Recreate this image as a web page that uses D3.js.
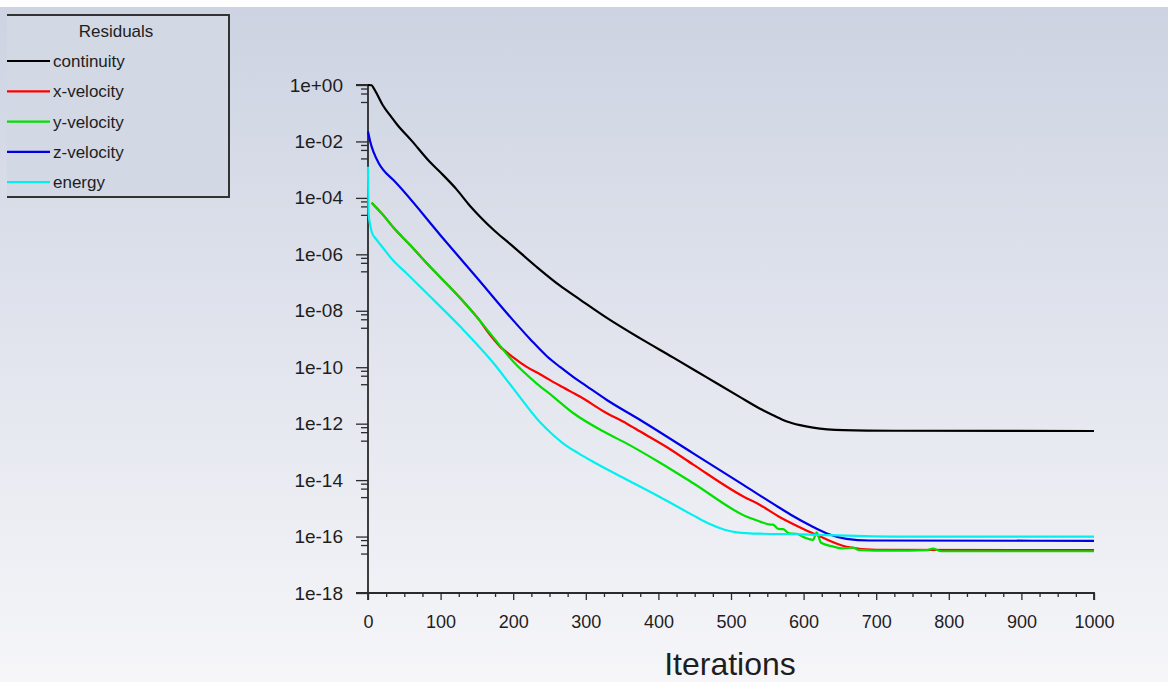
<!DOCTYPE html>
<html>
<head>
<meta charset="utf-8">
<script src="https://cdn.jsdelivr.net/npm/d3@7"></script>
<style>
  html, body { margin: 0; padding: 0; background: #fff; }
  svg { display: block; font-family: "Liberation Sans", Arial, sans-serif; }
</style>
</head>
<body>
<svg id="chart" width="1168" height="682"></svg>
<script>
// Residual histories (iteration, residual)
const continuityIter = [0, 5, 8, 12, 20, 30, 40, 60, 85, 100, 122, 140, 154, 175, 196, 232, 264, 292, 329, 375, 420, 466, 512, 540, 558, 577, 595, 613, 655, 724, 1000];
const continuityRes = [1.0, 0.98, 0.76, 0.5, 0.2, 0.087, 0.04, 0.0107, 1.9e-3, 7.9e-4, 2.0e-4, 5.4e-5, 2.2e-5, 6.6e-6, 2.3e-6, 3.63e-7, 7.9e-8, 2.5e-8, 5.6e-9, 1.05e-9, 2.24e-10, 4.47e-11, 8.9e-12, 3.4e-12, 2.0e-12, 1.2e-12, 8.9e-13, 7.24e-13, 5.89e-13, 5.62e-13, 5.5e-13];

const xVelIter = [5, 21, 35, 58, 81, 127, 154, 165, 182, 200, 218, 237, 264, 292, 329, 356, 375, 414, 448, 517, 540, 565, 586, 623, 659, 700, 1000];
const xVelRes = [6.76e-5, 2.45e-5, 8.91e-6, 2.14e-6, 4.79e-7, 2.82e-8, 4.47e-9, 1.78e-9, 5.37e-10, 2.24e-10, 1.05e-10, 5.62e-11, 2.24e-11, 9.12e-12, 2.34e-12, 1.02e-12, 5.25e-13, 1.35e-13, 3.55e-14, 2.63e-15, 1.32e-15, 5.25e-16, 2.75e-16, 1.0e-16, 4.37e-17, 3.39e-17, 3.31e-17];

const yVelIter = [5, 21, 35, 58, 81, 127, 154, 173, 200, 232, 255, 283, 329, 356, 400, 448, 522, 540, 552, 558, 565, 572, 580, 590, 600, 613, 618, 624, 640, 655, 668, 675, 720, 770, 778, 790, 1000];
const yVelRes = [6.76e-5, 2.45e-5, 8.91e-6, 2.14e-6, 4.79e-7, 2.82e-8, 4.47e-9, 1.12e-9, 1.58e-10, 2.69e-11, 9.12e-12, 2.34e-12, 4.57e-13, 2.0e-13, 4.47e-14, 7.76e-15, 5.01e-16, 3.39e-16, 2.69e-16, 2.63e-16, 1.86e-16, 1.82e-16, 1.3e-16, 1.26e-16, 9.55e-17, 7.59e-17, 1.41e-16, 6.03e-17, 4.47e-17, 3.8e-17, 4.07e-17, 3.39e-17, 3.16e-17, 3.31e-17, 3.72e-17, 3.02e-17, 3.02e-17];

const zVelIter = [0, 3, 8, 15, 21, 35, 100, 150, 200, 225, 246, 265, 283, 300, 329, 375, 448, 517, 565, 586, 610, 632, 659, 690, 1000];
const zVelRes = [2.24e-2, 1.0e-2, 3.98e-3, 1.66e-3, 9.8e-4, 4.27e-4, 4.68e-6, 1.48e-7, 4.57e-9, 8.9e-10, 2.5e-10, 1.0e-10, 4.47e-11, 2.24e-11, 6.92e-12, 1.35e-12, 8.9e-14, 6.76e-15, 1.12e-15, 5.25e-16, 2.4e-16, 1.29e-16, 8.3e-17, 7.24e-17, 7.08e-17];

const energyIter = [0, 1, 3, 5, 12, 20, 35, 53, 81, 127, 173, 200, 237, 255, 270, 290, 310, 356, 402, 448, 470, 490, 508, 540, 600, 632, 724, 1000];
const energyRes = [1.26e-3, 2.51e-5, 1.12e-5, 6.31e-6, 3.24e-6, 1.78e-6, 5.89e-7, 2.14e-7, 4.17e-8, 2.75e-9, 1.38e-10, 1.78e-11, 1.12e-12, 3.98e-13, 1.9e-13, 8.9e-14, 4.47e-14, 1.05e-14, 2.51e-15, 5.62e-16, 2.82e-16, 1.78e-16, 1.41e-16, 1.26e-16, 1.2e-16, 1.12e-16, 1.0e-16, 1.0e-16];

const seriesNames = ["continuity", "x-velocity", "y-velocity", "z-velocity", "energy"];
const seriesColors = ["#000000", "#ff0000", "#00e000", "#0000e6", "#00f0f0"];

const xTicks = [0, 100, 200, 300, 400, 500, 600, 700, 800, 900, 1000];
const yTicks = [1, 1e-2, 1e-4, 1e-6, 1e-8, 1e-10, 1e-12, 1e-14, 1e-16, 1e-18];

const series = [
  [continuityIter, continuityRes],
  [xVelIter, xVelRes],
  [yVelIter, yVelRes],
  [zVelIter, zVelRes],
  [energyIter, energyRes]
].map(([it, r], i) => ({
  name: seriesNames[i],
  color: seriesColors[i],
  values: it.map((d, j) => ({ it: d, r: r[j] }))
}));

const svg = d3.select("#chart");
const W = 1168, H = 682;
const plot = { left: 368, right: 1094, top: 85, bottom: 593 };

// background gradient
const defs = svg.append("defs");
const grad = defs.append("linearGradient").attr("id", "bg").attr("x1", 0).attr("y1", 0).attr("x2", 0).attr("y2", 1);
grad.append("stop").attr("offset", "0%").attr("stop-color", "#cdd3e2");
grad.append("stop").attr("offset", "100%").attr("stop-color", "#f6f6f9");
svg.append("rect").attr("x", 0).attr("y", 7).attr("width", W).attr("height", H - 7).attr("fill", "url(#bg)");

const x = d3.scaleLinear().domain([0, 1000]).range([plot.left, plot.right]);
const y = d3.scaleLog().domain([1e-18, 1]).range([plot.bottom, plot.top]);

const fmt = d => {
  const e = Math.round(Math.log10(d));
  return "1e" + (e < 0 ? "-" : "+") + String(Math.abs(e)).padStart(2, "0");
};

// minor ticks
const yMinor = [];
yTicks.slice(0, -1).forEach(t => [0.75, 0.5, 0.25].forEach(f => yMinor.push(t * f)));
const xMinor = d3.range(0, 1001, 25).filter(v => v % 100 !== 0);

const axisColor = "#2b2b2b";

const yMinorG = svg.append("g")
  .attr("transform", `translate(${plot.left},0)`)
  .call(d3.axisLeft(y).tickValues(yMinor).tickSize(7).tickFormat(""));
const xMinorG = svg.append("g")
  .attr("transform", `translate(0,${plot.bottom})`)
  .call(d3.axisBottom(x).tickValues(xMinor).tickSize(4).tickFormat(""));
[yMinorG, xMinorG].forEach(g => {
  g.select(".domain").remove();
  g.selectAll("line").attr("stroke", axisColor).attr("stroke-width", 1.3);
});

const yAxis = svg.append("g")
  .attr("transform", `translate(${plot.left},0)`)
  .call(d3.axisLeft(y).tickValues(yTicks).tickSize(12).tickPadding(13).tickFormat(fmt));
const xAxis = svg.append("g")
  .attr("transform", `translate(0,${plot.bottom})`)
  .call(d3.axisBottom(x).tickValues(xTicks).tickSize(7).tickPadding(15).tickFormat(d3.format("d")));
[yAxis, xAxis].forEach(g => {
  g.select(".domain").attr("stroke", axisColor).attr("stroke-width", 1.8);
  g.selectAll("line").attr("stroke", axisColor).attr("stroke-width", 1.3);
  g.selectAll("text").attr("fill", "#1e1e1e")
    .style("font-family", "'Liberation Sans', Arial, sans-serif");
});
yAxis.selectAll("text").style("font-size", "19px");
xAxis.selectAll("text").style("font-size", "18px");
yAxis.select(".domain").attr("d", `M-12,${plot.top}H0V${plot.bottom}H-12`);
xAxis.select(".domain").attr("d", `M${plot.left},7V0H${plot.right}V7`);

// x axis title
svg.append("text")
  .attr("x", 730).attr("y", 675)
  .attr("text-anchor", "middle")
  .attr("fill", "#1e1e1e")
  .style("font-size", "32px")
  .text("Iterations");

// residual lines
const line = d3.line()
  .x(d => x(d.it))
  .y(d => y(d.r))
  .curve(d3.curveMonotoneX);

svg.append("g")
  .selectAll("path")
  .data(series)
  .join("path")
  .attr("d", d => line(d.values))
  .attr("fill", "none")
  .attr("stroke", d => d.color)
  .attr("stroke-width", 2.2)
  .attr("stroke-linejoin", "round");

// legend
const legend = svg.append("g");
legend.append("rect").attr("x", 7).attr("y", 15).attr("width", 222).attr("height", 182).attr("fill", "#d3d8e5");
legend.append("path")
  .attr("d", "M7,15H229V197H7")
  .attr("fill", "none")
  .attr("stroke", "#333")
  .attr("stroke-width", 2);
legend.append("text")
  .attr("x", 116).attr("y", 37)
  .attr("text-anchor", "middle")
  .attr("fill", "#1e1e1e")
  .style("font-size", "17px")
  .text("Residuals");
const items = legend.selectAll("g.item")
  .data(series)
  .join("g")
  .attr("class", "item")
  .attr("transform", (d, i) => `translate(0,${61 + i * 30.3})`);
items.append("line")
  .attr("x1", 7).attr("x2", 50)
  .attr("stroke", d => d.color)
  .attr("stroke-width", 2.2);
items.append("text")
  .attr("x", 53).attr("y", 6)
  .attr("fill", "#1e1e1e")
  .style("font-size", "17px")
  .text(d => d.name);
</script>
</body>
</html>
